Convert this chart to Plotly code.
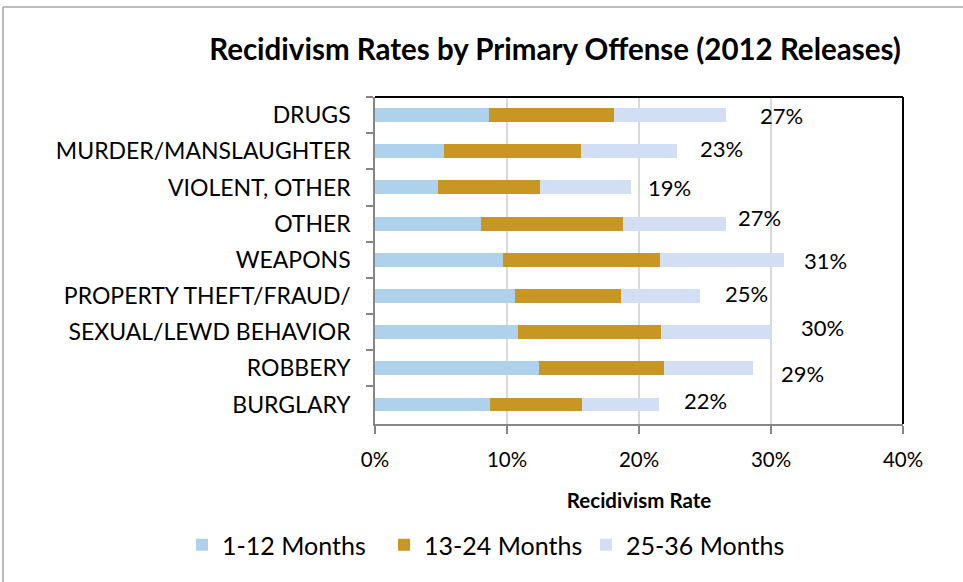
import plotly.graph_objects as go

# Offense categories, listed top to bottom
offenses = [
    "DRUGS",
    "MURDER/MANSLAUGHTER",
    "VIOLENT, OTHER",
    "OTHER",
    "WEAPONS",
    "PROPERTY THEFT/FRAUD/",
    "SEXUAL/LEWD BEHAVIOR",
    "ROBBERY",
    "BURGLARY",
]

# Recidivism rate (%) by time since release
months_1_12 = [8.6, 5.2, 4.8, 8.0, 9.7, 10.6, 10.8, 12.4, 8.7]
months_13_24 = [9.5, 10.4, 7.7, 10.8, 11.9, 8.0, 10.9, 9.5, 7.0]
months_25_36 = [8.5, 7.3, 6.9, 7.8, 9.4, 6.0, 8.3, 6.7, 5.8]

series_names = ["1-12 Months", "13-24 Months", "25-36 Months"]
x_tick_vals = [0, 10, 20, 30, 40]
x_tick_text = ["0%", "10%", "20%", "30%", "40%"]

# Styling
colors = ["#AED2EC", "#C89622", "#D1DEF3"]
FONT = "Lato"
# Pixel nudges (x, y) for the total labels
label_shift = [(32, 0), (21, 3), (15, 0), (10, 6), (18, -1),
               (23, 2), (28, 5), (26, -5), (23, 4)]

fig = go.Figure()
for name, vals, col in zip(series_names, [months_1_12, months_13_24, months_25_36], colors):
    fig.add_trace(go.Bar(
        y=offenses, x=vals, name=name, orientation="h",
        marker=dict(color=col, line=dict(width=0)),
        hoverinfo="x+y",
    ))

totals = [a + b + c for a, b, c in zip(months_1_12, months_13_24, months_25_36)]
for off, tot, (dx, dy) in zip(offenses, totals, label_shift):
    fig.add_annotation(
        x=tot, y=off, xref="x", yref="y",
        text=f"{int(tot + 0.5):d}%", showarrow=False,
        xanchor="left", yanchor="middle", xshift=dx, yshift=dy,
        font=dict(family=FONT, size=22, color="#000000"),
    )

# Geometry (pixels) of the plotting area
W, H = 963, 582
ML, MR, MT, MB = 375, 60, 97, 158
PW, PH = W - ML - MR, H - MT - MB

def px_x(p):
    return (p - ML) / PW

def px_y(p):
    return 1 - (p - MT) / PH

# Black border along top and right of the plot area
fig.add_shape(type="line", xref="paper", yref="paper", x0=0, x1=1, y0=1, y1=1,
              line=dict(color="#000000", width=2))
fig.add_shape(type="line", xref="paper", yref="paper", x0=1, x1=1, y0=0, y1=1,
              line=dict(color="#000000", width=2))
# Outer chart frame
fig.add_shape(type="line", xref="paper", yref="paper", x0=px_x(3), x1=px_x(3),
              y0=px_y(7), y1=px_y(H + 5), line=dict(color="#A6A6A6", width=1.5))
fig.add_shape(type="line", xref="paper", yref="paper", x0=px_x(3), x1=px_x(W + 5),
              y0=px_y(7), y1=px_y(7), line=dict(color="#A6A6A6", width=1.5))

fig.update_layout(
    width=W, height=H,
    barmode="stack", bargap=0.615,
    plot_bgcolor="#FFFFFF", paper_bgcolor="#FFFFFF",
    margin=dict(l=ML, r=MR, t=MT, b=MB, autoexpand=False),
    font=dict(family=FONT, size=22, color="#000000"),
    title=dict(
        text="<b>Recidivism Rates by Primary Offense (2012 Releases)</b>",
        xref="paper", x=px_x(555), xanchor="center",
        yref="container", y=1 - 50 / H, yanchor="middle",
        font=dict(family=FONT, size=29.5, color="#000000"),
    ),
    xaxis=dict(
        range=[0, 40], tickmode="array", tickvals=x_tick_vals, ticktext=x_tick_text,
        showgrid=True, gridcolor="#D9D9D9", gridwidth=1.5,
        showline=True, linecolor="#868686", linewidth=1.5,
        ticks="outside", ticklen=8, tickcolor="#868686", tickwidth=1.5,
        ticklabelstandoff=9, automargin=False,
        tickfont=dict(family=FONT, size=20.5),
        zeroline=False,
        title=dict(text="<b>Recidivism Rate</b>", standoff=23,
                   font=dict(family=FONT, size=20.5)),
    ),
    yaxis=dict(
        autorange="reversed",
        showline=True, linecolor="#868686", linewidth=1.5,
        ticks="outside", ticklen=7, tickcolor="#868686", tickwidth=1.5,
        tickson="boundaries", ticklabelstandoff=18, automargin=False,
        showgrid=False,
        tickfont=dict(family=FONT, size=23),
    ),
    legend=dict(
        orientation="h", xref="paper", x=px_x(182), xanchor="left",
        yref="paper", y=px_y(545), yanchor="middle",
        font=dict(family=FONT, size=25), traceorder="normal",
        entrywidth=157, entrywidthmode="pixels",
        itemclick=False,
    ),
    showlegend=True,
)

fig.write_html("out.html")
